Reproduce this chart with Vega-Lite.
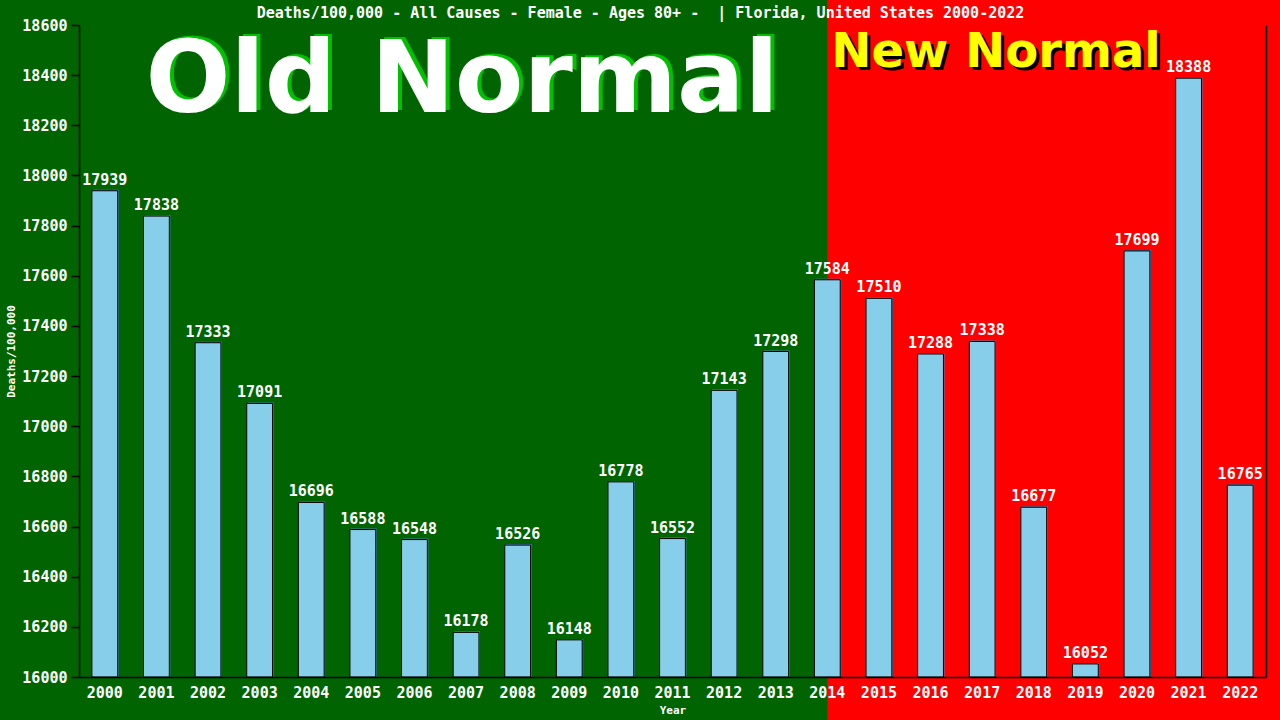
{
  "$schema": "https://vega.github.io/schema/vega-lite/v6.json",
  "autosize": {"type": "none"},
  "padding": {"left": 79, "top": 25, "right": 14, "bottom": 43},
  "width": 1187,
  "height": 652,
  "background": "#006400",
  "data": {
    "values": [
      {"year": "2000", "value": 17939},
      {"year": "2001", "value": 17838},
      {"year": "2002", "value": 17333},
      {"year": "2003", "value": 17091},
      {"year": "2004", "value": 16696},
      {"year": "2005", "value": 16588},
      {"year": "2006", "value": 16548},
      {"year": "2007", "value": 16178},
      {"year": "2008", "value": 16526},
      {"year": "2009", "value": 16148},
      {"year": "2010", "value": 16778},
      {"year": "2011", "value": 16552},
      {"year": "2012", "value": 17143},
      {"year": "2013", "value": 17298},
      {"year": "2014", "value": 17584},
      {"year": "2015", "value": 17510},
      {"year": "2016", "value": 17288},
      {"year": "2017", "value": 17338},
      {"year": "2018", "value": 16677},
      {"year": "2019", "value": 16052},
      {"year": "2020", "value": 17699},
      {"year": "2021", "value": 18388},
      {"year": "2022", "value": 16765}
    ]
  },
  "layer": [
    {
      "data": {"values": [{"era": "New Normal"}]},
      "mark": {"type": "rect", "color": "#ff0000", "clip": false},
      "encoding": {
        "x": {"datum": 2014, "type": "quantitative", "scale": {"domain": [1999.5, 2022.5], "nice": false, "zero": false}, "axis": null},
        "x2": {"datum": 2040},
        "y": {"datum": 15000, "type": "quantitative", "scale": {"domain": [16000, 18600], "nice": false, "zero": false}, "axis": null},
        "y2": {"datum": 20000}
      }
    },
    {
      "data": {"values": [{"title": "Deaths/100,000 - All Causes - Female - Ages 80+ - \u00a0| Florida, United States 2000-2022"}]},
      "mark": {"type": "text", "color": "white", "font": "DejaVu Sans Mono", "fontSize": 15, "fontWeight": "bold", "align": "center", "baseline": "alphabetic", "dx": -32, "dy": -7},
      "encoding": {
        "x": {"datum": 2011, "type": "quantitative", "scale": {"domain": [1999.5, 2022.5], "nice": false, "zero": false}, "axis": null},
        "y": {"datum": 18600, "type": "quantitative", "scale": {"domain": [16000, 18600], "nice": false, "zero": false}, "axis": null},
        "text": {"field": "title"}
      }
    },
    {
      "mark": {"type": "bar", "color": "#4682b4", "xOffset": 1, "yOffset": -1},
      "encoding": {
        "x": {"field": "year", "type": "nominal", "scale": {"paddingInner": 0.5, "paddingOuter": 0.25}, "axis": null},
        "y": {"field": "value", "type": "quantitative", "scale": {"domain": [16000, 18600], "nice": false, "zero": false}, "axis": null},
        "y2": {"datum": 16000}
      }
    },
    {
      "mark": {"type": "bar", "color": "#87ceeb", "stroke": "black", "strokeWidth": 1},
      "encoding": {
        "x": {
          "field": "year", "type": "nominal",
          "scale": {"paddingInner": 0.5, "paddingOuter": 0.25},
          "axis": {
            "title": "Year", "labelAngle": 0, "ticks": false, "labelPadding": 8, "zindex": 1,
            "labelFont": "DejaVu Sans Mono", "labelFontSize": 15, "labelFontWeight": "bold", "labelColor": "white",
            "titleFont": "DejaVu Sans Mono", "titleFontSize": 11, "titleFontWeight": "bold", "titleColor": "white", "titlePadding": 4,
            "domainColor": "black", "domainWidth": 1.5
          }
        },
        "y": {
          "field": "value", "type": "quantitative",
          "scale": {"domain": [16000, 18600], "nice": false, "zero": false},
          "axis": {
            "title": "Deaths/100,000", "zindex": 1,
            "values": [16000, 16200, 16400, 16600, 16800, 17000, 17200, 17400, 17600, 17800, 18000, 18200, 18400, 18600],
            "format": "d", "grid": false, "tickSize": 8, "tickColor": "black", "tickWidth": 1.5, "labelPadding": 4,
            "labelFont": "DejaVu Sans Mono", "labelFontSize": 15, "labelFontWeight": "bold", "labelColor": "white",
            "titleFont": "DejaVu Sans Mono", "titleFontSize": 11, "titleFontWeight": "bold", "titleColor": "white", "titlePadding": 5,
            "domainColor": "black", "domainWidth": 1.5
          }
        },
        "y2": {"datum": 16000}
      }
    },
    {
      "mark": {"type": "text", "color": "white", "font": "DejaVu Sans Mono", "fontSize": 15, "fontWeight": "bold", "baseline": "bottom", "dy": -3},
      "encoding": {
        "x": {"field": "year", "type": "nominal", "scale": {"paddingInner": 0.5, "paddingOuter": 0.25}, "axis": null},
        "y": {
          "field": "value", "type": "quantitative",
          "scale": {"domain": [16000, 18600], "nice": false, "zero": false},
          "axis": {"orient": "right", "labels": false, "ticks": false, "title": null, "grid": false, "zindex": 1, "domainColor": "black", "domainWidth": 1.5}
        },
        "text": {"field": "value", "type": "quantitative", "format": "d"}
      }
    },
    {
      "data": {"values": [{"label": "Old Normal"}]},
      "mark": {"type": "text", "color": "#00c000", "font": "DejaVu Sans", "fontWeight": "bold", "fontSize": 100, "align": "center", "baseline": "alphabetic", "dx": 0, "dy": 85},
      "encoding": {
        "x": {"datum": 2007, "type": "quantitative", "scale": {"domain": [1999.5, 2022.5], "nice": false, "zero": false}, "axis": null},
        "y": {"datum": 18600, "type": "quantitative", "scale": {"domain": [16000, 18600], "nice": false, "zero": false}, "axis": null},
        "text": {"field": "label"}
      }
    },
    {
      "data": {"values": [{"label": "Old Normal"}]},
      "mark": {"type": "text", "color": "white", "font": "DejaVu Sans", "fontWeight": "bold", "fontSize": 100, "align": "center", "baseline": "alphabetic", "dx": -4, "dy": 87},
      "encoding": {
        "x": {"datum": 2007, "type": "quantitative", "scale": {"domain": [1999.5, 2022.5], "nice": false, "zero": false}, "axis": null},
        "y": {"datum": 18600, "type": "quantitative", "scale": {"domain": [16000, 18600], "nice": false, "zero": false}, "axis": null},
        "text": {"field": "label"}
      }
    },
    {
      "data": {"values": [{"label": "New Normal"}]},
      "mark": {"type": "text", "color": "black", "font": "DejaVu Sans", "fontWeight": "bold", "fontSize": 48, "align": "left", "baseline": "alphabetic", "dx": 7, "dy": 45},
      "encoding": {
        "x": {"datum": 2014, "type": "quantitative", "scale": {"domain": [1999.5, 2022.5], "nice": false, "zero": false}, "axis": null},
        "y": {"datum": 18600, "type": "quantitative", "scale": {"domain": [16000, 18600], "nice": false, "zero": false}, "axis": null},
        "text": {"field": "label"}
      }
    },
    {
      "data": {"values": [{"label": "New Normal"}]},
      "mark": {"type": "text", "color": "#ffff00", "font": "DejaVu Sans", "fontWeight": "bold", "fontSize": 48, "align": "left", "baseline": "alphabetic", "dx": 4, "dy": 42},
      "encoding": {
        "x": {"datum": 2014, "type": "quantitative", "scale": {"domain": [1999.5, 2022.5], "nice": false, "zero": false}, "axis": null},
        "y": {"datum": 18600, "type": "quantitative", "scale": {"domain": [16000, 18600], "nice": false, "zero": false}, "axis": null},
        "text": {"field": "label"}
      }
    }
  ],
  "resolve": {"scale": {"x": "independent"}, "axis": {"y": "independent", "x": "independent"}},
  "config": {"view": {"stroke": null}}
}
